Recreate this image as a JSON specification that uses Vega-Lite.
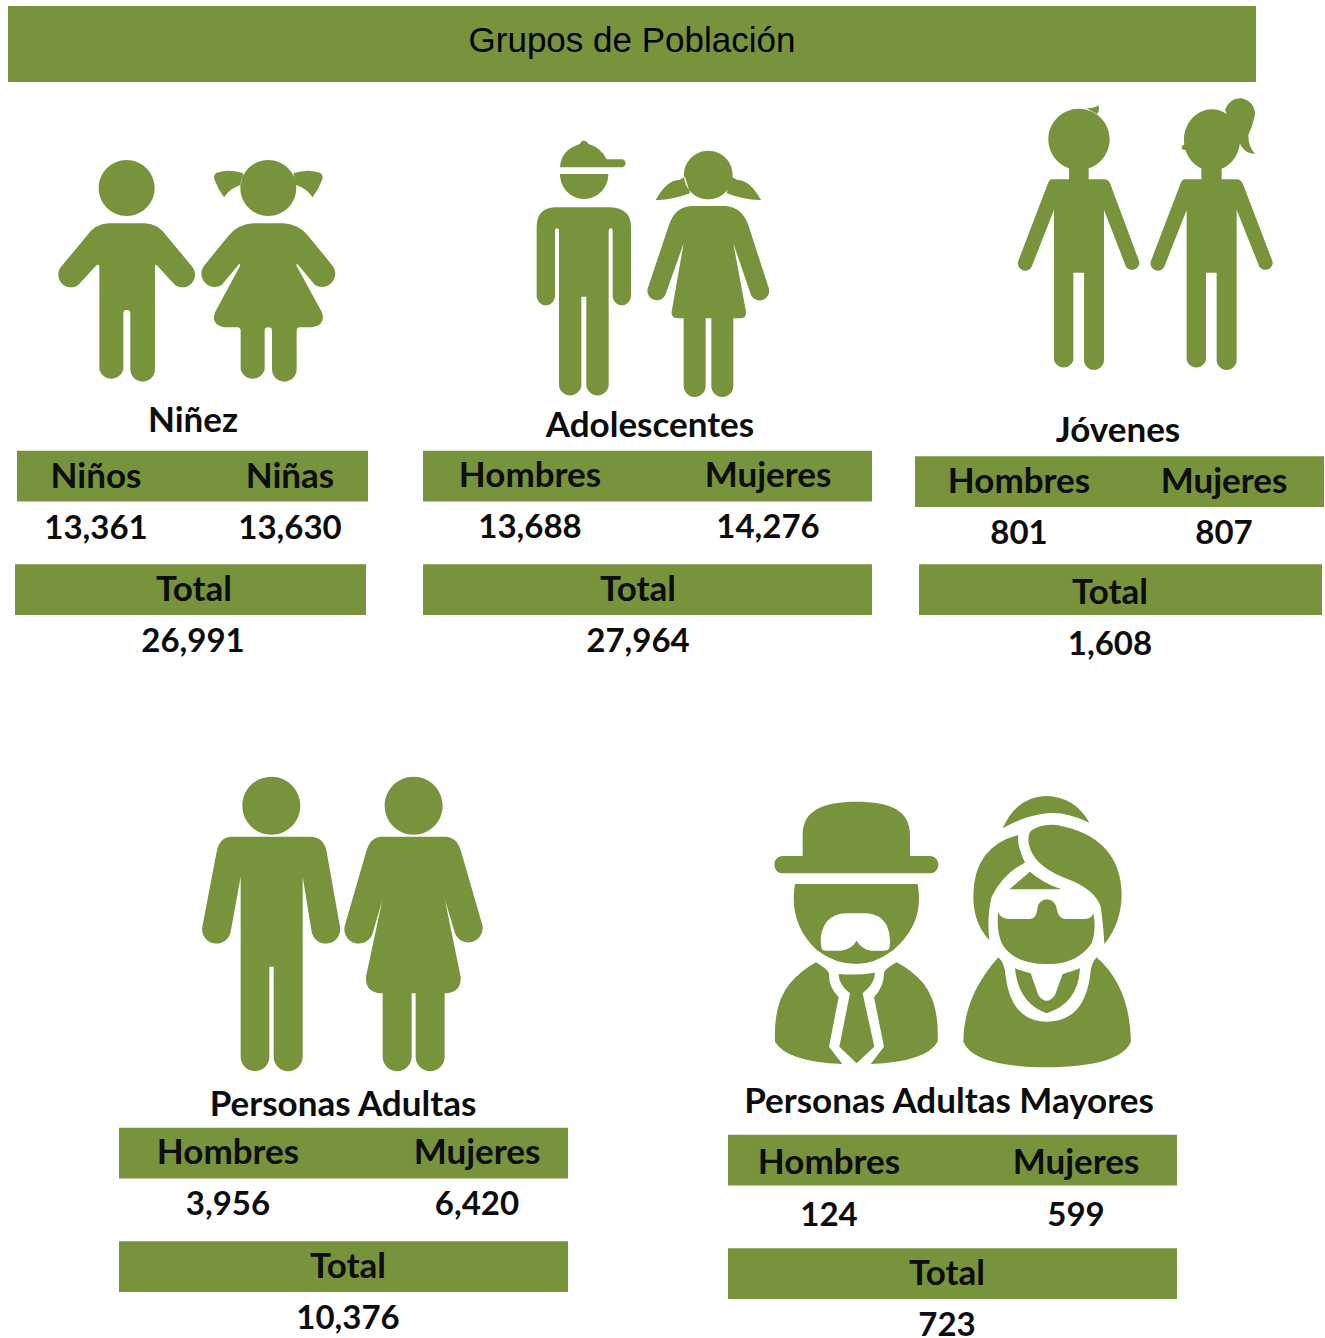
{"$schema":"https://vega.github.io/schema/vega-lite/v6.json","padding":{"left":8,"top":6,"right":0,"bottom":0},"background":"white","spacing":0,"resolve":{"scale":{"shape":"independent"}},
"config":{"view":{"stroke":null},"axis":{"disable":true},"legend":{"disable":true},"text":{"font":"Lato","fontWeight":"bold","fontSize":35,"color":"#0d0d0d","baseline":"middle","align":"center"},"rect":{"color":"#77933C"},"point":{"color":"#77933C","opacity":1}},
"datasets":{"poblacion":[
{"grupo":"Niñez","sexo":"Niños","valor":13361},{"grupo":"Niñez","sexo":"Niñas","valor":13630},{"grupo":"Niñez","sexo":"Total","valor":26991},
{"grupo":"Adolescentes","sexo":"Hombres","valor":13688},{"grupo":"Adolescentes","sexo":"Mujeres","valor":14276},{"grupo":"Adolescentes","sexo":"Total","valor":27964},
{"grupo":"Jóvenes","sexo":"Hombres","valor":801},{"grupo":"Jóvenes","sexo":"Mujeres","valor":807},{"grupo":"Jóvenes","sexo":"Total","valor":1608},
{"grupo":"Personas Adultas","sexo":"Hombres","valor":3956},{"grupo":"Personas Adultas","sexo":"Mujeres","valor":6420},{"grupo":"Personas Adultas","sexo":"Total","valor":10376},
{"grupo":"Personas Adultas Mayores","sexo":"Hombres","valor":124},{"grupo":"Personas Adultas Mayores","sexo":"Mujeres","valor":599},{"grupo":"Personas Adultas Mayores","sexo":"Total","valor":723}],
"figuras":[{"grupo":"Niñez","figura":"a"},{"grupo":"Niñez","figura":"b"},{"grupo":"Adolescentes","figura":"a"},{"grupo":"Adolescentes","figura":"b"},{"grupo":"Jóvenes","figura":"a"},{"grupo":"Jóvenes","figura":"b"},{"grupo":"Personas Adultas","figura":"a"},{"grupo":"Personas Adultas","figura":"b"},{"grupo":"Personas Adultas Mayores","figura":"a"},{"grupo":"Personas Adultas Mayores","figura":"b"}]},
"vconcat":[
{"width":1248,"height":76,"data":{"values":[{"titulo":"Grupos de Población"}]},"layer":[{"mark":"rect","encoding":{}},{"mark":{"type":"text","font":"Liberation Sans","fontWeight":"normal","fontSize":35,"dy":-3,"color":"#000000"},"encoding":{"text":{"field":"titulo"}}}]},
{"spacing":0,"resolve":{"scale":{"shape":"independent"}},"hconcat":[
{"width":7,"height":1,"data":{"values":[]},"mark":"point"},
{"spacing":0,"resolve":{"scale":{"shape":"independent"}},"vconcat":[
{"width":353,"height":309,"data":{"name":"figuras"},"transform":[{"filter":"datum.grupo=='Niñez'"}],"mark":{"type":"point","filled":true,"size":0.4444,"xOffset":-151.5,"yOffset":-106.5},"encoding":{"shape":{"field":"figura","type":"nominal","scale":{"domain":["a","b"],"range":[
"M176 174a84 84 0 1 1 168 0a84 84 0 1 1 -168 0ZM205 280H315Q355 282 380 318L458 412A38 38 0 0 1 405 465L350 405Q345 402 345 410V718A37 37 0 0 1 271 718V550Q271 540 260 540Q250 540 250 550V718A37 37 0 0 1 178 718V410Q178 402 170 405L115 465A38 38 0 0 1 62 412L140 318Q165 282 205 280Z",
"M601 174a84 84 0 1 1 168 0a84 84 0 1 1 -168 0ZM610 130Q570 115 530 128Q518 135 524 150Q535 180 552 202Q570 175 602 165ZM760 130Q800 115 840 128Q852 135 846 150Q835 180 818 202Q800 175 768 165ZM640 280H730Q775 282 805 318L880 410A40 40 0 0 1 825 465L775 405Q768 398 770 408L845 545Q860 585 815 592H780Q770 592 770 602V718A37 37 0 0 1 696 718V602Q696 592 685 592Q674 592 674 602V718A37 37 0 0 1 602 718V602Q602 592 592 592H555Q510 585 526 545L600 408Q602 398 595 405L545 465A40 40 0 0 1 490 410L565 318Q595 282 640 280Z"]}}}},
{"width":353,"height":284,"data":{"name":"poblacion"},"transform":[{"filter":"datum.grupo=='Niñez'"}],"resolve":{"scale":{"x":"independent"}},"layer":[
{"transform":[{"filter":"datum.sexo=='Total'"}],"mark":{"type":"rect","xOffset":2},"encoding":{"x":{"datum":0,"type":"quantitative","scale":{"domain":[0,1]}},"x2":{"datum":1},"y":{"datum":"cabecera","type":"nominal","scale":{"type":"band","domain":["nombre","cabecera","valores","total","valorTotal"],"range":[0,283.75],"paddingInner":0.11,"paddingOuter":0.055}}}},
{"transform":[{"filter":"datum.sexo=='Total'"}],"mark":{"type":"rect","x2Offset":-2},"encoding":{"x":{"datum":0,"type":"quantitative","scale":{"domain":[0,1]}},"x2":{"datum":1},"y":{"datum":"total","type":"nominal"}}},
{"transform":[{"filter":"datum.sexo=='Total'"}],"mark":{"type":"text","dx":1.5,"dy":1.6},"encoding":{"y":{"datum":"nombre","type":"nominal"},"text":{"field":"grupo"}}},
{"transform":[{"filter":"datum.sexo!='Total'"}],"mark":{"type":"text","dy":1},"encoding":{"x":{"field":"sexo","type":"nominal","scale":{"type":"point","padding":0,"domain":["Niños","Niñas"],"range":[81,275]}},"y":{"datum":"cabecera","type":"nominal"},"text":{"field":"sexo"}}},
{"transform":[{"filter":"datum.sexo!='Total'"}],"mark":{"type":"text","dy":-4,"fontSize":33},"encoding":{"x":{"field":"sexo","type":"nominal","scale":{"type":"point","padding":0,"domain":["Niños","Niñas"],"range":[81,275]}},"y":{"datum":"valores","type":"nominal"},"text":{"field":"valor","type":"quantitative","format":","}}},
{"transform":[{"filter":"datum.sexo=='Total'"}],"mark":{"type":"text","dx":2.5,"dy":0.4},"encoding":{"y":{"datum":"total","type":"nominal"},"text":{"field":"sexo"}}},
{"transform":[{"filter":"datum.sexo=='Total'"}],"mark":{"type":"text","dx":1.5,"dy":-4,"fontSize":33},"encoding":{"y":{"datum":"valorTotal","type":"nominal"},"text":{"field":"valor","type":"quantitative","format":","}}}]}]},
{"width":55,"height":1,"data":{"values":[]},"mark":"point"},
{"spacing":0,"resolve":{"scale":{"shape":"independent"}},"vconcat":[
{"width":449,"height":318,"data":{"name":"figuras"},"transform":[{"filter":"datum.grupo=='Adolescentes'"}],"mark":{"type":"point","filled":true,"size":0.4444,"xOffset":-127.5,"yOffset":-111},"encoding":{"shape":{"field":"figura","type":"nominal","scale":{"domain":["a","b"],"range":[
"M120 112Q122 60 180 42Q185 30 192 32Q200 32 205 42Q240 50 260 88H305A12 12 0 0 1 305 112ZM120 132H265A72.5 75 0 0 1 120 132ZM105 232H270Q333 235 333 290V500A28 32 0 0 1 278 500V302Q278 295 272 295Q266 295 266 302V768A34 34 0 0 1 199 768V500H184V768A34 34 0 0 1 117 768V302Q117 295 111 295Q105 295 105 302V500A28 32 0 0 1 50 500V290Q50 235 105 232Z",
"M492 135a73 73 0 1 1 146 0a73 73 0 1 1 -146 0ZM495 140L478 150Q440 150 407 210Q450 212 510 190ZM635 140L652 150Q690 150 723 210Q680 212 620 190ZM515 228H615Q665 230 685 285L745 470A28 28 0 0 1 693 495L640 340L678 545Q680 565 660 565H640V768A33 33 0 0 1 574 768V565H557V768A33 33 0 0 1 491 768V565H475Q452 565 455 545L491 340L436 495A28 28 0 0 1 385 470L447 285Q465 230 515 228Z"]}}}},
{"width":449,"height":275,"data":{"name":"poblacion"},"transform":[{"filter":"datum.grupo=='Adolescentes'"}],"layer":[
{"transform":[{"filter":"datum.sexo=='Total'"}],"mark":"rect","encoding":{"y":{"datum":"cabecera","type":"nominal","scale":{"type":"band","domain":["nombre","cabecera","valores","total","valorTotal"],"range":[-9,274.75],"paddingInner":0.11,"paddingOuter":0.055}}}},
{"transform":[{"filter":"datum.sexo=='Total'"}],"mark":"rect","encoding":{"y":{"datum":"total","type":"nominal"}}},
{"transform":[{"filter":"datum.sexo=='Total'"}],"mark":{"type":"text","dx":2.5,"dy":7},"encoding":{"y":{"datum":"nombre","type":"nominal"},"text":{"field":"grupo"}}},
{"transform":[{"filter":"datum.sexo!='Total'"}],"mark":{"type":"text","dy":0},"encoding":{"x":{"field":"sexo","type":"nominal","scale":{"type":"point","padding":0,"domain":["Hombres","Mujeres"],"range":[107,345]}},"y":{"datum":"cabecera","type":"nominal"},"text":{"field":"sexo"}}},
{"transform":[{"filter":"datum.sexo!='Total'"}],"mark":{"type":"text","dy":-5,"fontSize":33},"encoding":{"x":{"field":"sexo","type":"nominal"},"y":{"datum":"valores","type":"nominal"},"text":{"field":"valor","type":"quantitative","format":","}}},
{"transform":[{"filter":"datum.sexo=='Total'"}],"mark":{"type":"text","dx":-9.5,"dy":0.4},"encoding":{"y":{"datum":"total","type":"nominal"},"text":{"field":"sexo"}}},
{"transform":[{"filter":"datum.sexo=='Total'"}],"mark":{"type":"text","dx":-9.5,"dy":-4,"fontSize":33},"encoding":{"y":{"datum":"valorTotal","type":"nominal"},"text":{"field":"valor","type":"quantitative","format":","}}}]}]},
{"width":43,"height":1,"data":{"values":[]},"mark":"point"},
{"spacing":0,"resolve":{"scale":{"shape":"independent"}},"vconcat":[
{"width":409,"height":309,"data":{"name":"figuras"},"transform":[{"filter":"datum.grupo=='Jóvenes'"}],"mark":{"type":"point","filled":true,"size":0.4444,"xOffset":-119.5,"yOffset":-146.5},"encoding":{"shape":{"field":"figura","type":"nominal","scale":{"domain":["a","b"],"range":[
"M145 148a92 92 0 1 1 184 0a92 92 0 1 1 -184 0ZM260 55Q285 55 295 45Q300 60 292 72ZM155 268H207V230H266V268H315Q328 270 332 285L418 515A22 22 0 0 1 378 530L312 360V810A30 30 0 0 1 252 810V548H220V810A30 30 0 0 1 162 810V360L95 530A22 22 0 0 1 54 515L142 285Q146 270 155 268Z",
"M552 150a84 92 0 1 1 168 0a84 92 0 1 1 -168 0ZM545 172a8 8 0 1 1 16 0a8 8 0 1 1 -16 0ZM675 60Q690 22 725 25Q765 35 765 75Q755 115 745 135Q745 170 765 192Q725 190 715 145ZM553 268H604V230H665V268H712Q725 270 730 285L818 515A22 22 0 0 1 778 530L710 360V810A30 30 0 0 1 650 810V548H618V810A30 30 0 0 1 560 810V360L493 530A22 22 0 0 1 452 515L540 285Q544 270 553 268Z"]}}}},
{"width":409,"height":284,"data":{"name":"poblacion"},"transform":[{"filter":"datum.grupo=='Jóvenes'"}],"resolve":{"scale":{"x":"independent"}},"layer":[
{"transform":[{"filter":"datum.sexo=='Total'"}],"mark":{"type":"rect","yOffset":5.5,"y2Offset":5.5},"encoding":{"y":{"datum":"cabecera","type":"nominal","scale":{"type":"band","domain":["nombre","cabecera","valores","total","valorTotal"],"range":[0,283.75],"paddingInner":0.11,"paddingOuter":0.055}}}},
{"transform":[{"filter":"datum.sexo=='Total'"}],"mark":{"type":"rect","xOffset":4,"x2Offset":-2},"encoding":{"x":{"datum":0,"type":"quantitative","scale":{"domain":[0,1]}},"x2":{"datum":1},"y":{"datum":"total","type":"nominal"}}},
{"transform":[{"filter":"datum.sexo=='Total'"}],"mark":{"type":"text","dx":-1.5,"dy":11.6},"encoding":{"y":{"datum":"nombre","type":"nominal"},"text":{"field":"grupo"}}},
{"transform":[{"filter":"datum.sexo!='Total'"}],"mark":{"type":"text","dy":6},"encoding":{"x":{"field":"sexo","type":"nominal","scale":{"type":"point","padding":0,"domain":["Hombres","Mujeres"],"range":[104,309]}},"y":{"datum":"cabecera","type":"nominal"},"text":{"field":"sexo"}}},
{"transform":[{"filter":"datum.sexo!='Total'"}],"mark":{"type":"text","dy":1,"fontSize":33},"encoding":{"x":{"field":"sexo","type":"nominal","scale":{"type":"point","padding":0,"domain":["Hombres","Mujeres"],"range":[104,309]}},"y":{"datum":"valores","type":"nominal"},"text":{"field":"valor","type":"quantitative","format":","}}},
{"transform":[{"filter":"datum.sexo=='Total'"}],"mark":{"type":"text","dx":-9.5,"dy":3},"encoding":{"y":{"datum":"total","type":"nominal"},"text":{"field":"sexo"}}},
{"transform":[{"filter":"datum.sexo=='Total'"}],"mark":{"type":"text","dx":-9.5,"dy":-1.4,"fontSize":33},"encoding":{"y":{"datum":"valorTotal","type":"nominal"},"text":{"field":"valor","type":"quantitative","format":","}}}]}]}
]},
{"spacing":0,"resolve":{"scale":{"shape":"independent"}},"hconcat":[
{"width":111,"height":1,"data":{"values":[]},"mark":"point"},
{"spacing":0,"resolve":{"scale":{"shape":"independent"}},"vconcat":[
{"width":449,"height":400,"data":{"name":"figuras"},"transform":[{"filter":"datum.grupo=='Personas Adultas'"}],"mark":{"type":"point","filled":true,"size":0.4444,"xOffset":-153.5,"yOffset":-105},"encoding":{"shape":{"field":"figura","type":"nominal","scale":{"domain":["a","b"],"range":[
"M157 107a87 87 0 1 1 174 0a87 87 0 1 1 -174 0ZM122 200H365Q402 203 410 245L450 470A43 43 0 0 1 365 485L338 320V860A43 43 0 0 1 251 860V590H238V860A43 43 0 0 1 152 860V320L122 485A43 43 0 0 1 37 470L80 245Q88 203 122 200Z",
"M584 107a87 87 0 1 1 174 0a87 87 0 1 1 -174 0ZM570 200H770Q800 203 812 240L877 465A43 43 0 0 1 795 490L765 390L812 620Q815 665 770 670H764V860A43 43 0 0 1 677 860V670H665V860A43 43 0 0 1 578 860V670H570Q525 665 528 620L577 390L548 490A43 43 0 0 1 465 465L530 240Q542 203 570 200Z"]}}}},
{"width":449,"height":263,"data":{"name":"poblacion"},"transform":[{"filter":"datum.grupo=='Personas Adultas'"}],"layer":[
{"transform":[{"filter":"datum.sexo=='Total'"}],"mark":"rect","encoding":{"y":{"datum":"cabecera","type":"nominal","scale":{"type":"band","domain":["nombre","cabecera","valores","total","valorTotal"],"range":[-7,276.75],"paddingInner":0.11,"paddingOuter":0.055}}}},
{"transform":[{"filter":"datum.sexo=='Total'"}],"mark":"rect","encoding":{"y":{"datum":"total","type":"nominal"}}},
{"transform":[{"filter":"datum.sexo=='Total'"}],"mark":{"type":"text","dx":-0.5,"dy":9},"encoding":{"y":{"datum":"nombre","type":"nominal"},"text":{"field":"grupo"}}},
{"transform":[{"filter":"datum.sexo!='Total'"}],"mark":{"type":"text"},"encoding":{"x":{"field":"sexo","type":"nominal","scale":{"type":"point","padding":0,"domain":["Hombres","Mujeres"],"range":[109,358]}},"y":{"datum":"cabecera","type":"nominal"},"text":{"field":"sexo"}}},
{"transform":[{"filter":"datum.sexo!='Total'"}],"mark":{"type":"text","dy":-4.5,"fontSize":33},"encoding":{"x":{"field":"sexo","type":"nominal"},"y":{"datum":"valores","type":"nominal"},"text":{"field":"valor","type":"quantitative","format":","}}},
{"transform":[{"filter":"datum.sexo=='Total'"}],"mark":{"type":"text","dx":4.5,"dy":0},"encoding":{"y":{"datum":"total","type":"nominal"},"text":{"field":"sexo"}}},
{"transform":[{"filter":"datum.sexo=='Total'"}],"mark":{"type":"text","dx":4.5,"dy":-4.4,"fontSize":33},"encoding":{"y":{"datum":"valorTotal","type":"nominal"},"text":{"field":"valor","type":"quantitative","format":","}}}]}]},
{"width":160,"height":1,"data":{"values":[]},"mark":"point"},
{"spacing":0,"resolve":{"scale":{"shape":"independent"}},"vconcat":[
{"width":449,"height":400,"data":{"name":"figuras"},"transform":[{"filter":"datum.grupo=='Personas Adultas Mayores'"}],"mark":{"type":"point","filled":true,"size":0.4444,"xOffset":-192.5,"yOffset":-85},"encoding":{"shape":{"field":"figura","type":"nominal","scale":{"domain":["a","b"],"range":[
"M128 198V135C128 60 190 35 290 35C390 35 450 60 450 135V198H510A25 26 0 0 1 510 250H68A25 26 0 0 1 68 198ZM105 282H473Q495 400 400 480Q345 522 289 522Q225 522 170 480Q85 400 105 282ZM185 475Q185 482 200 482H240Q275 478 290 452Q305 478 335 482H370Q385 482 388 475Q395 440 380 405Q360 372 320 370H265Q225 368 200 395Q175 430 185 475ZM168 517Q205 540 207 550Q205 590 236 622L207 770L247 822Q80 815 45 755Q40 640 90 580Q125 540 168 517ZM410 517Q370 540 372 550Q372 590 342 622L372 770L332 822Q500 815 533 755Q538 640 490 580Q455 540 410 517ZM236 552Q290 557 345 548Q345 580 308 610L343 770L290 820L238 770L270 610Q236 585 236 552Z",
"M728 115Q770 20 858 18Q945 20 988 98Q910 60 845 72Q790 80 728 115ZM775 135Q770 165 795 218Q730 250 695 320Q680 380 688 450Q640 400 640 320Q640 170 775 135ZM810 125Q840 100 890 105Q1080 140 1085 310Q1085 400 1033 462Q1030 400 1022 350Q1005 300 930 270Q830 235 810 175Q800 145 810 125ZM748 298L810 245Q850 280 905 298ZM715 365Q720 385 745 387H810Q830 387 833 350Q840 330 860 328Q885 330 890 355Q895 387 915 387H975Q995 387 1000 370Q1010 420 995 460Q950 525 860 522Q760 522 725 460Q708 415 715 365ZM715 502Q735 520 737 560Q755 695 860 695Q970 695 990 560Q992 520 1010 502Q1110 590 1113 755Q1080 830 860 832Q640 830 610 755Q610 620 715 502ZM765 535Q790 545 812 550L835 615Q860 650 885 615L908 552Q935 545 960 535Q955 640 860 670Q775 640 765 535Z"]}}}},
{"width":449,"height":263,"data":{"name":"poblacion"},"transform":[{"filter":"datum.grupo=='Personas Adultas Mayores'"}],"layer":[
{"transform":[{"filter":"datum.sexo=='Total'"}],"mark":"rect","encoding":{"y":{"datum":"cabecera","type":"nominal","scale":{"type":"band","domain":["nombre","cabecera","valores","total","valorTotal"],"range":[0,283.75],"paddingInner":0.11,"paddingOuter":0.055}}}},
{"transform":[{"filter":"datum.sexo=='Total'"}],"mark":"rect","encoding":{"y":{"datum":"total","type":"nominal"}}},
{"transform":[{"filter":"datum.sexo=='Total'"}],"mark":{"type":"text","dx":-3.5,"dy":-1.4},"encoding":{"y":{"datum":"nombre","type":"nominal"},"text":{"field":"grupo"}}},
{"transform":[{"filter":"datum.sexo!='Total'"}],"mark":{"type":"text","dy":3},"encoding":{"x":{"field":"sexo","type":"nominal","scale":{"type":"point","padding":0,"domain":["Hombres","Mujeres"],"range":[101,348]}},"y":{"datum":"cabecera","type":"nominal"},"text":{"field":"sexo"}}},
{"transform":[{"filter":"datum.sexo!='Total'"}],"mark":{"type":"text","dy":-1,"fontSize":33},"encoding":{"x":{"field":"sexo","type":"nominal"},"y":{"datum":"valores","type":"nominal"},"text":{"field":"valor","type":"quantitative","format":","}}},
{"transform":[{"filter":"datum.sexo=='Total'"}],"mark":{"type":"text","dx":-5.5,"dy":0.4},"encoding":{"y":{"datum":"total","type":"nominal"},"text":{"field":"sexo"}}},
{"transform":[{"filter":"datum.sexo=='Total'"}],"mark":{"type":"text","dx":-5.5,"dy":-4.4,"fontSize":33,"clip":true},"encoding":{"y":{"datum":"valorTotal","type":"nominal"},"text":{"field":"valor","type":"quantitative","format":","}}}]}]}
]}
]}
